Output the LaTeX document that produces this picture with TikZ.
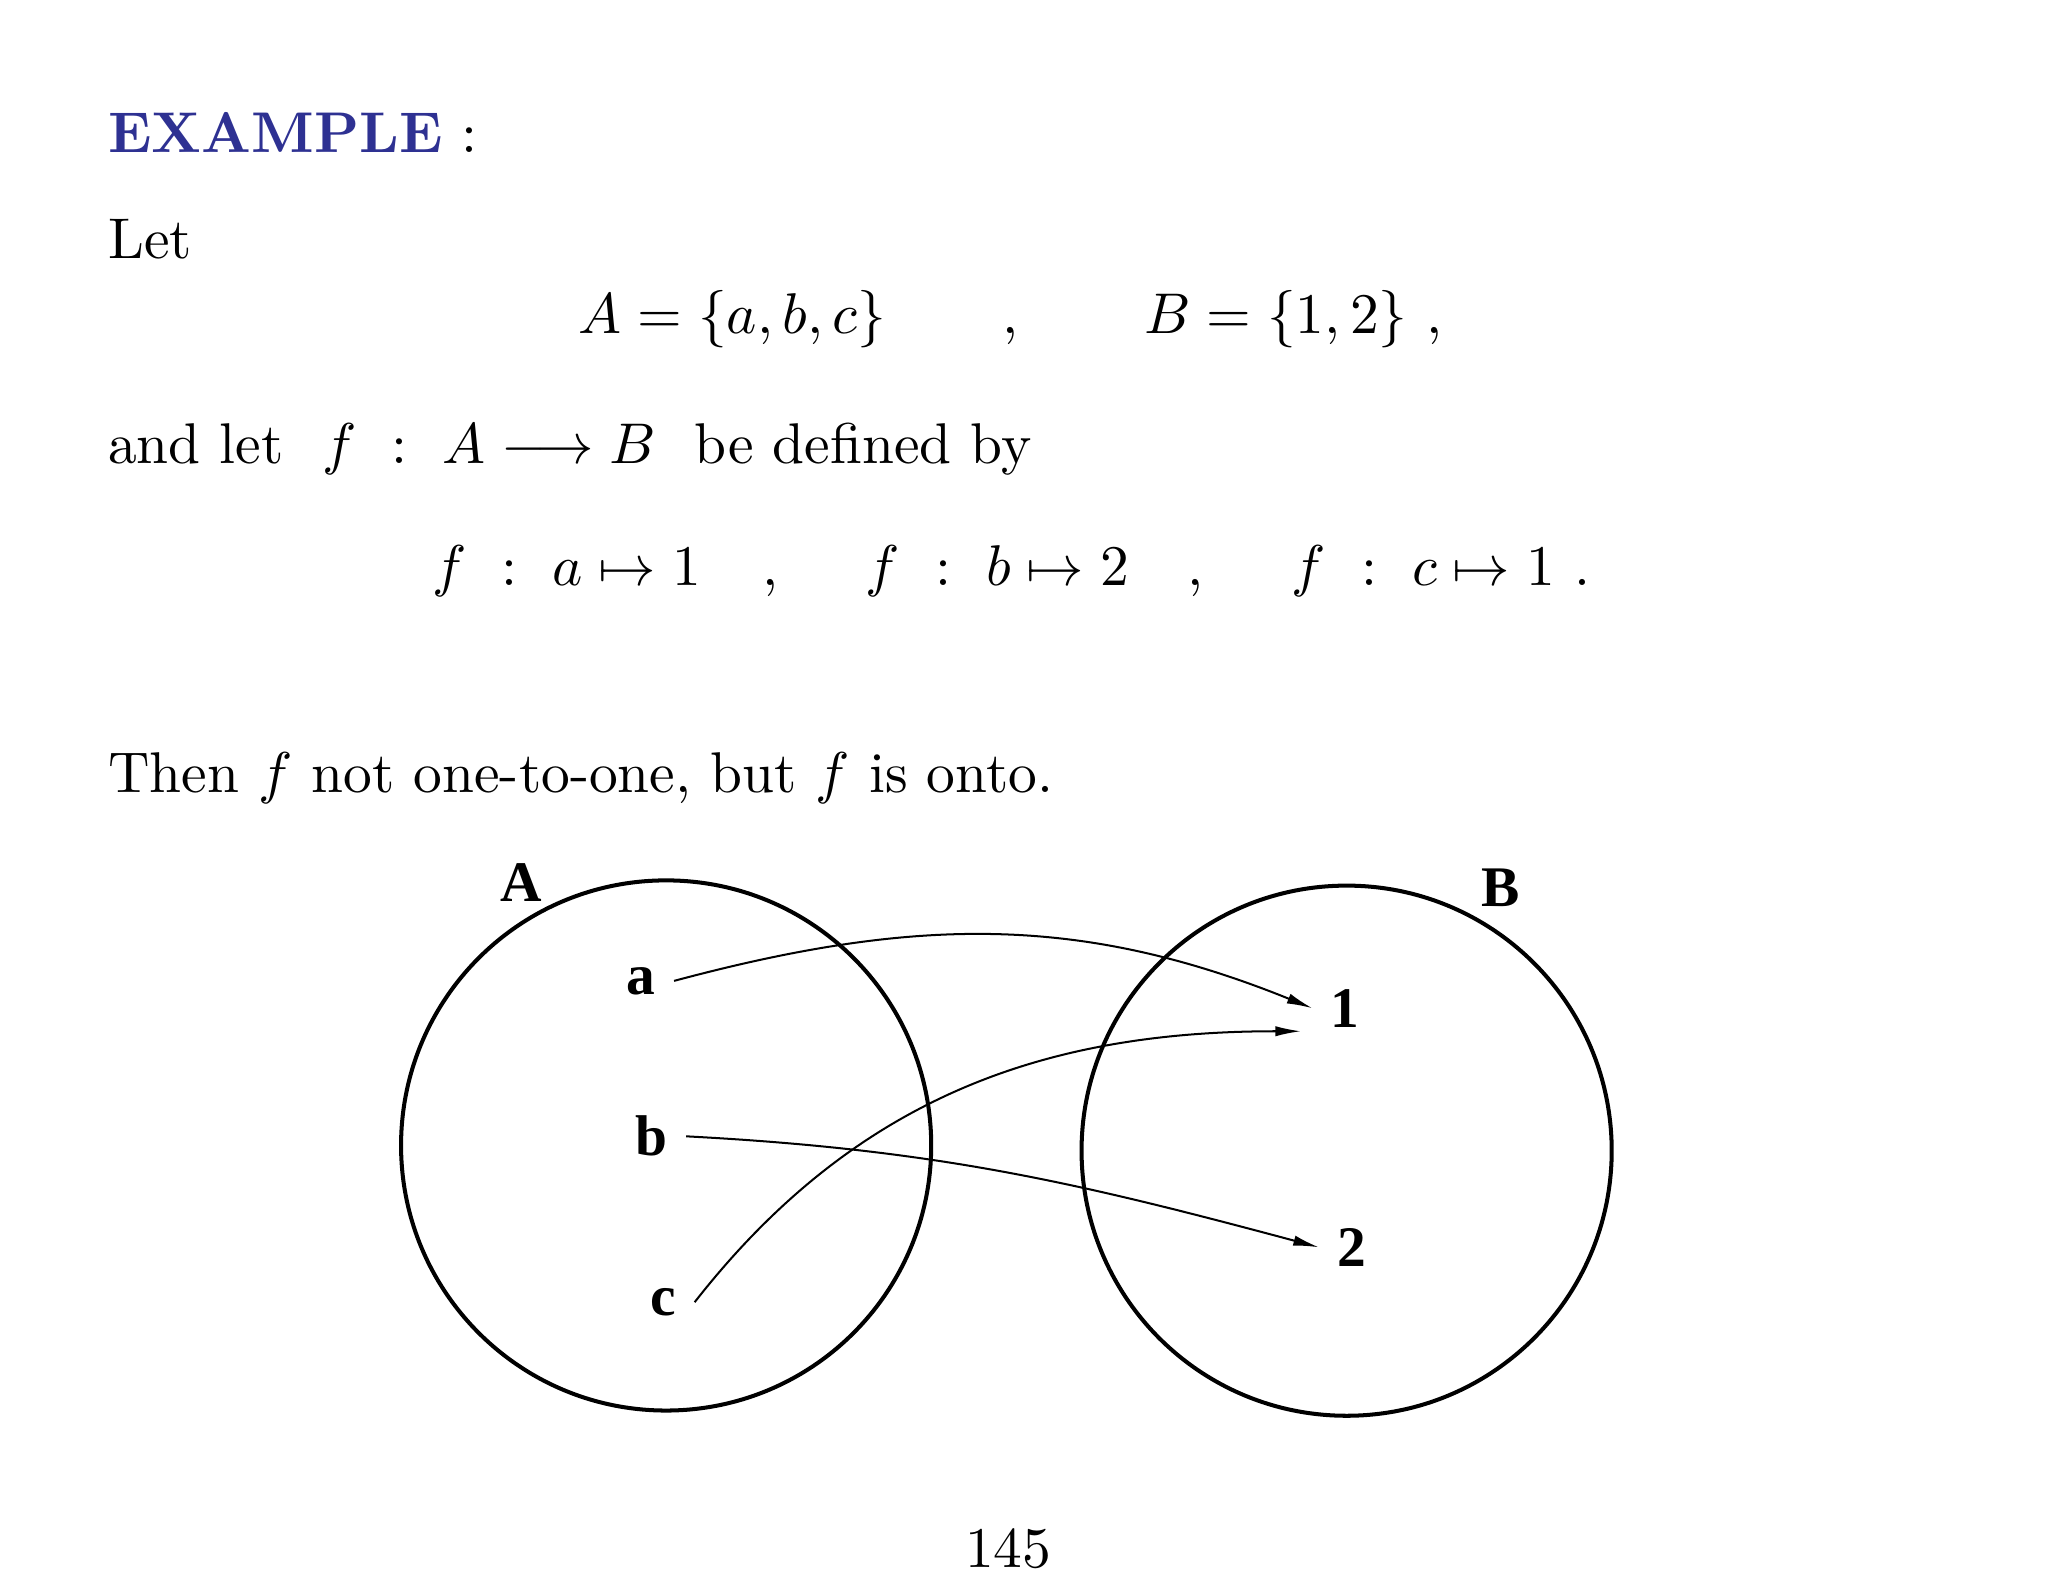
\documentclass[tikz,border=0pt]{standalone}
\usepackage{fontspec}
\usetikzlibrary{arrows.meta, positioning}
\newfontfamily\labelfont{Liberation Serif}
\definecolor{titleblue}{RGB}{46,49,146}

\begin{document}
\begin{tikzpicture}[x=0.2274pt, y=-0.2274pt]
        \tikzstyle{line} = [anchor=base west, inner sep=0pt]
        \tikzstyle{set} = [circle, draw, line width=0.7pt, minimum size=92.3pt, inner sep=0pt]
        \tikzstyle{elem} = [font=\labelfont\bfseries, inner sep=3pt]
        \tikzstyle{map} = [-{Latex[length=4.5pt,width=1.8pt]}, line width=0.35pt]

        \useasboundingbox (0,0) rectangle (1568,1211);

        \node (title) [line] at (82,117) {\textbf{\color{titleblue}EXAMPLE} :};
        \node (let) [line] at (82,198) {Let};
        \node (defA) [line] at (442,255) {$A=\{a,b,c\}$};
        \node (commaA) [line] at (767,255) {,};
        \node (defB) [line] at (875,255) {$B=\{1,2\}$ ,};
        \node (fdef) [line] at (82,355) {and let \ $f\ :\ A\longrightarrow B$ \ be defined by};
        \node (fa) [line] at (330,448) {$f\ :\ a\mapsto 1$};
        \node (commaB) [line] at (583,448) {,};
        \node (fb) [line] at (662,448) {$f\ :\ b\mapsto 2$};
        \node (commaC) [line] at (908,448) {,};
        \node (fc) [line] at (988,448) {$f\ :\ c\mapsto 1$ .};
        \node (then) [line] at (82,607) {Then $f$ not one-to-one, but $f$ is onto.};
        \node (page) [anchor=base, inner sep=0pt] at (772,1200) {145};

        \node (setA) [set] at (510,877) {};
        \node (setB) [set] at (1031,881) {};
        \node (labA) [elem] at (399,676) {A};
        \node (labB) [elem] at (1149,680) {B};

        \node (a) [elem] at (491,751) {a};
        \node (b) [elem] at (499,870) {b};
        \node (c) [elem] at (508,997) {c};
        \node (one) [elem] at (1030,772) {1};
        \node (two) [elem] at (1035,955) {2};

        \draw [map] (a.east) to[out=15, in=158] (one.west);
        \draw [map] (b.east) to[out=-3, in=165] (two.west);
        \draw [map, shorten >=2pt] (c.east) to[out=52, in=180] (one.215);
    \end{tikzpicture}
\end{document}
